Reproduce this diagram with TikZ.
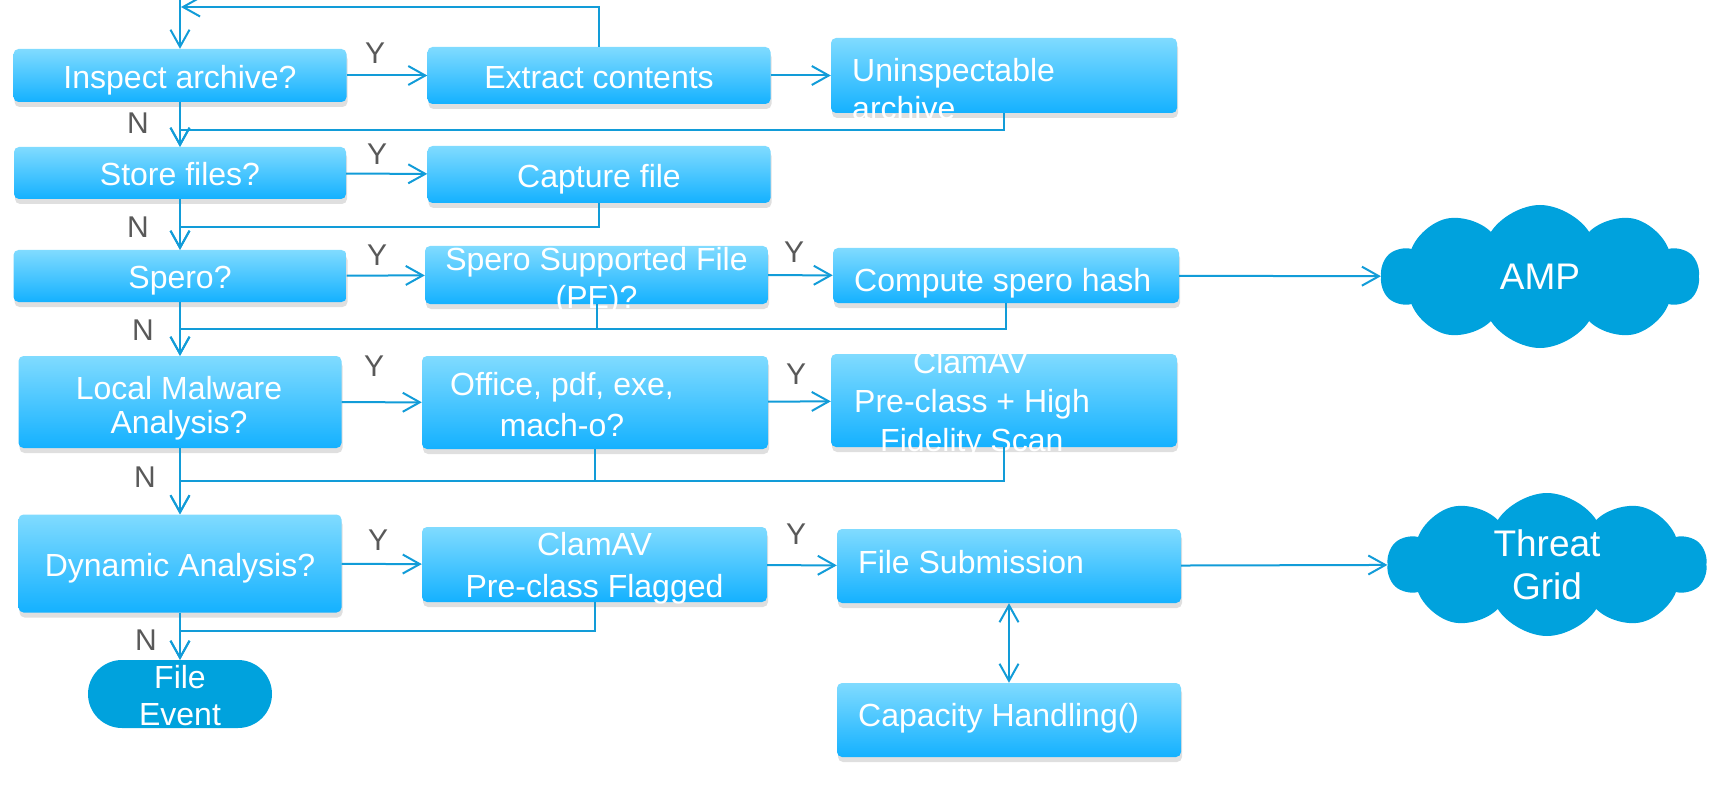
\documentclass[tikz,border=0pt]{standalone}
\usepackage{fontspec}
\setmainfont{Liberation Sans}
\usetikzlibrary{arrows.meta,shapes.symbols,shadows}
\definecolor{boxtop}{HTML}{80DBFF}
\definecolor{boxbot}{HTML}{14B1FF}
\definecolor{cloudblue}{HTML}{00A2DD}
\definecolor{flowline}{HTML}{129CD8}
\definecolor{yngray}{HTML}{595959}
\tikzset{
	>={Straight Barb[length=17pt,width=19pt]},
	box/.style={rectangle,rounded corners=5pt,inner sep=0pt,top color=boxtop,bottom color=boxbot,
		text=white,align=center,font=\fontsize{32}{38}\selectfont,text height=32pt,text depth=6.4pt,
		drop shadow={shadow xshift=1pt,shadow yshift=-5pt,opacity=0.25}},
	boxtext/.style={inner sep=0pt,text=white,align=left,font=\fontsize{32}{38}\selectfont},
	terminal/.style={rectangle,rounded corners=34pt,inner sep=0pt,fill=cloudblue,text=white,
		align=center,font=\fontsize{32}{37}\selectfont},
	service/.style={cloud,cloud puffs=10,cloud puff arc=115,aspect=2.2,inner sep=0pt,fill=cloudblue,
		text=white,align=center,font=\fontsize{37}{43}\selectfont},
	yn/.style={text=yngray,font=\fontsize{30}{34}\selectfont,inner sep=0pt},
	flow/.style={draw=flowline,line width=2pt},
}
\begin{document}
\begin{tikzpicture}[x=1pt,y=-1pt]
	\useasboundingbox (0,0) rectangle (1734,786);
	% Decisions (left column)
	\node[box,minimum width=333pt,minimum height=53pt] (inspect) at (180,75.5) {Inspect archive?};
	\node[box,minimum width=332pt,minimum height=52pt] (store) at (180,173) {Store files?};
	\node[box,minimum width=333pt,minimum height=52pt] (spero) at (180,276) {Spero?};
	\node[box,minimum width=323pt,minimum height=92pt] (local) at (180,402) {};
	\node[boxtext,align=center,font=\fontsize{32}{34}\selectfont] (local-t) at (179,408) {Local Malware\\Analysis?};
	\node[box,minimum width=323pt,minimum height=98pt] (dynamic) at (180,563.5) {Dynamic Analysis?};
	\node[terminal,minimum width=184pt,minimum height=68pt] (fevent) at (180,694) {};
	\node[boxtext,align=center,font=\fontsize{32}{37}\selectfont] (fevent-t) at (180,696) {File\\Event};
	% Middle column
	\node[box,minimum width=343pt,minimum height=57pt] (extract) at (599,75.5) {Extract contents};
	\node[box,minimum width=343pt,minimum height=57pt] (capture) at (599,174.5) {Capture file};
	\node[box,minimum width=343pt,minimum height=58pt] (sperosup) at (596.5,275) {};
	\node[boxtext,align=center] (sperosup-t) at (596.5,281.5) {Spero Supported File\\(PE)?};
	\node[box,minimum width=346pt,minimum height=93pt] (office) at (595,402.5) {};
	\node[boxtext,align=center,font=\fontsize{32}{41}\selectfont] (office-t) at (562,404.5) {Office, pdf, exe,\\mach-o?};
	\node[box,minimum width=345pt,minimum height=75pt] (flagged) at (594.5,564.5) {};
	\node[boxtext,align=center,font=\fontsize{32}{42}\selectfont] (flagged-t) at (594.5,568.5) {ClamAV\\Pre-class Flagged};
	% Right column
	\node[box,minimum width=346pt,minimum height=75pt] (uninsp) at (1004,75.5) {};
	\node[boxtext,anchor=west] (uninsp-t) at (852,89) {Uninspectable\\archive};
	\node[box,minimum width=346pt,minimum height=55pt] (compute) at (1006,275.5) {};
	\node[boxtext,anchor=west] (compute-t) at (854,283) {Compute spero hash};
	\node[box,minimum width=346pt,minimum height=93pt] (hfs) at (1004,400.5) {};
	\node[boxtext,anchor=west,font=\fontsize{32}{39}\selectfont] (hfs-t) at (854,404.5) {\hspace*{59pt}ClamAV\\Pre-class + High\\\hspace*{26pt}Fidelity Scan};
	\node[box,minimum width=344pt,minimum height=74pt] (filesub) at (1009,566) {};
	\node[boxtext,anchor=west] (filesub-t) at (858,562) {File Submission};
	\node[box,minimum width=344pt,minimum height=74pt] (capacity) at (1009,720) {};
	\node[boxtext,anchor=west] (capacity-t) at (858,718) {Capacity Handling()};
	% Clouds
	\node[service,minimum width=318pt,minimum height=143pt] (amp) at (1540,276.5) {AMP};
	\node[service,minimum width=319pt,minimum height=143pt] (tgrid) at (1547,564.5) {Threat\\Grid};
	% Yes branches
	\draw[flow,->] (inspect) -- (extract);
	\draw[flow,->] (store) -- (capture);
	\draw[flow,->] (spero) -- (sperosup);
	\draw[flow,->] (local) -- (office);
	\draw[flow,->] (dynamic) -- (flagged);
	\draw[flow,->] (extract) -- (uninsp);
	\draw[flow,->] (sperosup) -- (compute);
	\draw[flow,->] (office) -- (hfs);
	\draw[flow,->] (flagged) -- (filesub);
	\draw[flow,->] (compute) -- (amp);
	\draw[flow,->] (filesub) -- (tgrid);
	\draw[flow,<->] (filesub) -- (capacity);
	% No branches
	\coordinate (topin) at (180,0);
	\coordinate (loopin) at (181,7);
	\draw[flow,->] (topin) -- (inspect);
	\draw[flow,->] (inspect) -- (store);
	\draw[flow,->] (store) -- (spero);
	\draw[flow,->] (spero) -- (local);
	\draw[flow,->] (local) -- (dynamic);
	\draw[flow,->] (dynamic) -- (fevent);
	% Returns to the main line
	\draw[flow,->] (extract.north) |- (loopin);
	\draw[flow,->] (uninsp.south) -- ++(0,17) -| (store.north);
	\draw[flow,->] (capture.south) -- ++(0,24) -| (spero.north);
	\draw[flow] (sperosup.south) -- ++(0,25);
	\draw[flow,->] (compute.south) -- ++(0,26) -| (local.north);
	\draw[flow] (office.south) -- ++(0,32);
	\draw[flow,->] (hfs.south) -- ++(0,34) -| (dynamic.north);
	\draw[flow,->] (flagged.south) -- ++(0,29) -| (fevent.north);
	% Labels
	\node[yn] (y1) at (375,53) {Y};
	\node[yn] (y2) at (377,154) {Y};
	\node[yn] (y3) at (377,255) {Y};
	\node[yn] (y4) at (374,366) {Y};
	\node[yn] (y5) at (378,540) {Y};
	\node[yn] (y6) at (794,252) {Y};
	\node[yn] (y7) at (796,374) {Y};
	\node[yn] (y8) at (796,534) {Y};
	\node[yn] (n1) at (138,123) {N};
	\node[yn] (n2) at (138,227) {N};
	\node[yn] (n3) at (143,330) {N};
	\node[yn] (n4) at (145,477) {N};
	\node[yn] (n5) at (146,640) {N};
\end{tikzpicture}
\end{document}
